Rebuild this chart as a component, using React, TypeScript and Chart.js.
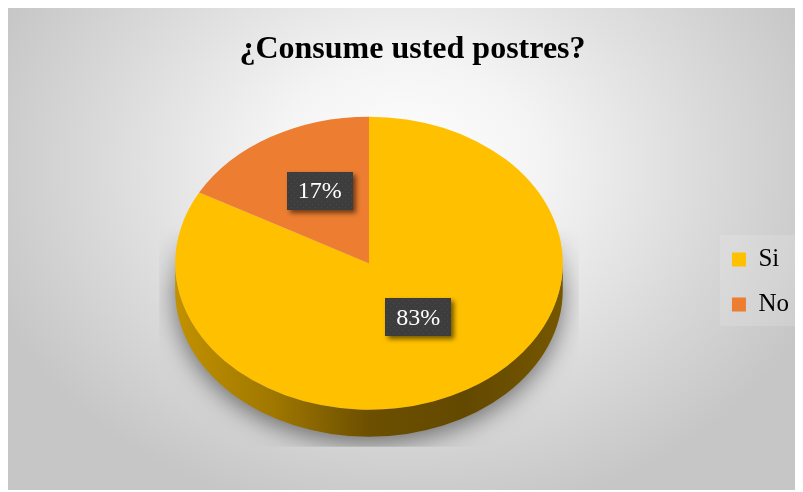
import { useEffect, useRef } from "react";
import { Chart, registerables } from "chart.js";

Chart.register(...registerables);

const TITLE = "¿Consume usted postres?";
const CATEGORIES = ["Si", "No"];
const PERCENTS = [83, 17];
const TOP_COLORS = ["#FFC000", "#ED7D31"];
const SIDE_STOPS = [
  ["#c29100", "#a07800", "#6c4f00", "#634900", "#765700"],
  ["#b35c1f", "#8d4716", "#6b3511", "#63310f", "#773b12"],
];

const SERIF = '"Liberation Serif", "Times New Roman", serif';
const TILT = 0.756; // vertical squash of the disc
const DEPTH = 27; // thickness of the disc wall
const LABEL_LIFT = -9;
const LEGEND_SHIFT_X = -4;
const LEGEND_SHIFT_Y = 46;

function arcGeom(chart: any) {
  const arcs = chart.getDatasetMeta(0).data as any[];
  if (!arcs.length) return null;
  const p = arcs[0].getProps(["x", "y", "outerRadius"], true);
  return { arcs, cx: p.x as number, cy: p.y as number, r: p.outerRadius as number };
}

function labelPattern(ctx: CanvasRenderingContext2D) {
  const c = document.createElement("canvas");
  c.width = 6;
  c.height = 6;
  const g = c.getContext("2d")!;
  g.fillStyle = "#3d3d3d";
  g.fillRect(0, 0, 6, 6);
  g.fillStyle = "#4a4a4a";
  g.fillRect(1, 1, 1, 1);
  g.fillRect(4, 4, 1, 1);
  return ctx.createPattern(c, "repeat");
}

const backdrop = {
  id: "backdrop",
  beforeDraw(chart: any) {
    const { ctx, width, height } = chart;
    ctx.save();
    const gx = width * 0.5;
    const gy = height * 0.33;
    ctx.translate(gx, gy);
    ctx.scale(1, 0.8);
    const grad = ctx.createRadialGradient(0, 0, 0, 0, 0, width * 0.56);
    grad.addColorStop(0, "#ffffff");
    grad.addColorStop(0.3, "#f4f4f4");
    grad.addColorStop(0.7, "#d9d9d9");
    grad.addColorStop(1, "#c6c6c6");
    ctx.fillStyle = grad;
    ctx.fillRect(-gx, -gy / 0.8, width, height / 0.8);
    ctx.restore();

    // faint panel behind the legend
    const lg = chart.legend;
    if (lg && lg.columnSizes && lg.columnSizes.length) {
      const pad = lg.options.labels.padding;
      const x0 = lg.left + pad;
      const y0 = (lg.top + pad + lg.bottom - lg.columnSizes[0].height) / 2;
      ctx.save();
      ctx.fillStyle = "rgba(255,255,255,0.14)";
      ctx.fillRect(x0 - 12, y0 - 12, 76, 91);
      ctx.restore();
    }
  },
};

const legendNudge = {
  id: "legendNudge",
  afterLayout(chart: any) {
    const lg = chart.legend;
    if (!lg) return;
    lg.left += LEGEND_SHIFT_X;
    lg.right += LEGEND_SHIFT_X;
    lg.top += LEGEND_SHIFT_Y;
    lg.bottom += LEGEND_SHIFT_Y;
  },
};

function drawDiscShadow(chart: any, cx: number, cy: number, r: number, ry: number) {
  const off = document.createElement("canvas");
  off.width = chart.width;
  off.height = chart.height;
  const o = off.getContext("2d")!;
  const far = 5000;
  o.shadowColor = "rgba(0,0,0,0.5)";
  o.shadowBlur = 24;
  o.shadowOffsetX = far;
  o.shadowOffsetY = 6;
  o.fillStyle = "#000";
  o.beginPath();
  o.ellipse(cx - far, cy, r, ry, 0, Math.PI, 0, false);
  o.ellipse(cx - far, cy + DEPTH, r, ry, 0, 0, Math.PI, false);
  o.closePath();
  o.fill();
  // fade the halo out toward the top and cut it off flat at the bottom
  o.shadowColor = "transparent";
  o.globalCompositeOperation = "destination-in";
  const bottom = cy + ry + DEPTH + 10;
  const fade = o.createLinearGradient(0, cy - ry * 0.25, 0, cy + ry * 0.2);
  fade.addColorStop(0, "rgba(0,0,0,0)");
  fade.addColorStop(1, "rgba(0,0,0,1)");
  o.fillStyle = fade;
  o.fillRect(cx - r - 16, 0, 2 * r + 32, bottom);
  chart.ctx.drawImage(off, 0, 0);
}

const pie3d = {
  id: "pie3d",
  beforeDatasetsDraw(chart: any) {
    const g = arcGeom(chart);
    if (!g) return;
    const { arcs, cx, cy, r } = g;
    const ry = r * TILT;
    const ctx: CanvasRenderingContext2D = chart.ctx;

    drawDiscShadow(chart, cx, cy, r, ry);

    // visible wall of every slice
    arcs.forEach((arc: any, i: number) => {
      const { startAngle, endAngle } = arc.getProps(["startAngle", "endAngle"], true);
      const stops = SIDE_STOPS[i % SIDE_STOPS.length];
      const grad = ctx.createLinearGradient(cx - r, 0, cx + r, 0);
      stops.forEach((c, k) => grad.addColorStop(k / (stops.length - 1), c));
      for (let k = -1; k <= 1; k++) {
        const lo = Math.max(startAngle, 2 * Math.PI * k);
        const hi = Math.min(endAngle, 2 * Math.PI * k + Math.PI);
        if (hi <= lo) continue;
        ctx.beginPath();
        ctx.ellipse(cx, cy, r, ry, 0, lo, hi, false);
        ctx.ellipse(cx, cy + DEPTH, r, ry, 0, hi, lo, true);
        ctx.closePath();
        ctx.fillStyle = grad;
        ctx.fill();
      }
    });

    // squash the top face
    ctx.save();
    ctx.translate(0, cy);
    ctx.scale(1, TILT);
    ctx.translate(0, -cy);
  },
  afterDatasetsDraw(chart: any) {
    const ctx: CanvasRenderingContext2D = chart.ctx;
    const g = arcGeom(chart);
    if (!g) return;
    ctx.restore();
    const { arcs, cx, cy, r } = g;
    const pattern = labelPattern(ctx);
    ctx.save();
    ctx.font = `24px ${SERIF}`;
    ctx.textAlign = "center";
    ctx.textBaseline = "middle";
    arcs.forEach((arc: any, i: number) => {
      const { startAngle, endAngle } = arc.getProps(["startAngle", "endAngle"], true);
      const mid = (startAngle + endAngle) / 2;
      const lx = cx + Math.cos(mid) * r * 0.5;
      const ly = cy + Math.sin(mid) * r * 0.5 * TILT + LABEL_LIFT;
      const text = `${PERCENTS[i]}%`;
      const w = ctx.measureText(text).width + 22;
      const h = 38;
      ctx.save();
      ctx.shadowColor = "rgba(0,0,0,0.55)";
      ctx.shadowBlur = 5;
      ctx.shadowOffsetX = 3;
      ctx.shadowOffsetY = 3;
      ctx.fillStyle = pattern || "#3f3f3f";
      ctx.fillRect(Math.round(lx - w / 2), Math.round(ly - h / 2), Math.round(w), h);
      ctx.restore();
      ctx.fillStyle = "#ffffff";
      ctx.fillText(text, lx, ly + 1);
    });
    ctx.restore();
  },
};

export default function App() {
  const canvasRef = useRef<HTMLCanvasElement | null>(null);

  useEffect(() => {
    const canvas = canvasRef.current;
    if (!canvas) return;
    const chart = new Chart(canvas, {
      type: "pie",
      data: {
        labels: CATEGORIES,
        datasets: [
          {
            data: PERCENTS,
            backgroundColor: TOP_COLORS,
            borderWidth: 0,
          },
        ],
      },
      options: {
        responsive: false,
        animation: false,
        events: [],
        layout: { padding: { left: 14, right: 0, top: 7, bottom: 33 } },
        plugins: {
          title: {
            display: true,
            text: TITLE,
            color: "#000000",
            font: { family: SERIF, size: 32, weight: "bold" },
            padding: { top: 16, bottom: 0 },
          },
          legend: {
            position: "right",
            labels: {
              color: "#000000",
              boxWidth: 14,
              boxHeight: 14,
              padding: 20,
              font: { family: SERIF, size: 25 },
            },
          },
          tooltip: { enabled: false },
        },
      },
      plugins: [backdrop, legendNudge, pie3d],
    });
    return () => chart.destroy();
  }, []);

  return (
    <div style={{ width: 795, height: 482 }}>
      <canvas ref={canvasRef} width={795} height={482} style={{ display: "block" }} />
    </div>
  );
}
